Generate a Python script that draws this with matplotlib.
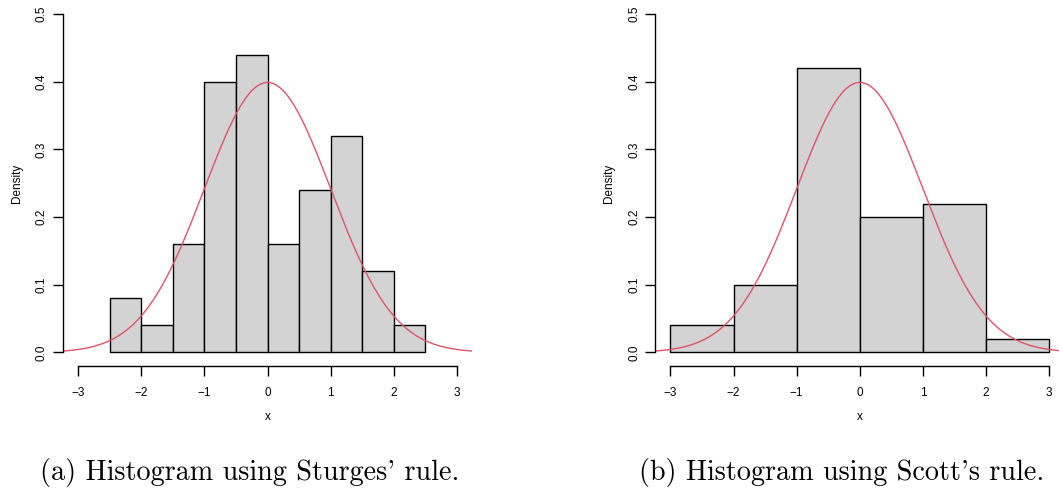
import numpy as np
import matplotlib
matplotlib.use('Agg')
import matplotlib.pyplot as plt

# histogram densities
sturges_edges = [-2.5, -2.0, -1.5, -1.0, -0.5, 0.0, 0.5, 1.0, 1.5, 2.0, 2.5]
sturges_density = [0.08, 0.04, 0.16, 0.40, 0.44, 0.16, 0.24, 0.32, 0.12, 0.04]

scott_edges = [-3, -2, -1, 0, 1, 2, 3]
scott_density = [0.04, 0.10, 0.42, 0.20, 0.22, 0.02]

x_ticks = [-3, -2, -1, 0, 1, 2, 3]
y_ticks = [0.0, 0.1, 0.2, 0.3, 0.4, 0.5]
y_tick_labels = ['0.0', '0.1', '0.2', '0.3', '0.4', '0.5']

captions = ["(a) Histogram using Sturges' rule.", "(b) Histogram using Scott's rule."]

mu, sigma = 0.0, 1.0

plt.rcParams['font.family'] = ['Liberation Sans', 'DejaVu Sans']

fig = plt.figure(figsize=(10.59, 4.93), dpi=100)
ax1 = fig.add_axes([63 / 1059, 1 - 366 / 493, 409 / 1059, 365.5 / 493])
ax2 = fig.add_axes([655.3 / 1059, 1 - 366 / 493, 409 / 1059, 365.5 / 493])


def draw_hist(ax, edges, dens):
    edges = np.array(edges, dtype=float)
    ax.bar(edges[:-1], dens, width=np.diff(edges), align='edge',
           color='#d3d3d3', edgecolor='black', linewidth=1.0, zorder=1)
    xs = np.linspace(-3.24, 3.24, 400)
    ys = np.exp(-0.5 * ((xs - mu) / sigma) ** 2) / (sigma * np.sqrt(2 * np.pi))
    ax.plot(xs, ys, color='#DF536B', linewidth=1.0, zorder=2)

    ax.set_xlim(-3.24, 3.24)
    ax.set_ylim(-0.02, 0.52)
    for s in ['top', 'right']:
        ax.spines[s].set_visible(False)
    ax.spines['left'].set_bounds(0, 0.5)
    ax.spines['bottom'].set_bounds(-3, 3)
    ax.spines['left'].set_linewidth(1.0)
    ax.spines['bottom'].set_linewidth(1.0)

    ax.set_xticks(x_ticks)
    ax.set_xticklabels([str(t).replace('-', '\u2212') for t in x_ticks])
    ax.set_yticks(y_ticks)
    ax.set_yticklabels(y_tick_labels, rotation=90, va='center')
    ax.tick_params(axis='both', length=7, width=1.0, labelsize=8.5)
    ax.tick_params(axis='x', pad=8)
    ax.tick_params(axis='y', pad=4)
    ax.set_xlabel('x', fontsize=8.5, labelpad=9)
    ax.set_ylabel('Density', fontsize=8.5, labelpad=9.5)


draw_hist(ax1, sturges_edges, sturges_density)
draw_hist(ax2, scott_edges, scott_density)

fig.text(250 / 1059, 1 - 480 / 493, captions[0], family='cmr10', fontsize=20.3,
         ha='center', va='baseline')
fig.text(841.5 / 1059, 1 - 480 / 493, captions[1], family='cmr10', fontsize=20.3,
         ha='center', va='baseline')

fig.savefig('out.png', dpi=100)
